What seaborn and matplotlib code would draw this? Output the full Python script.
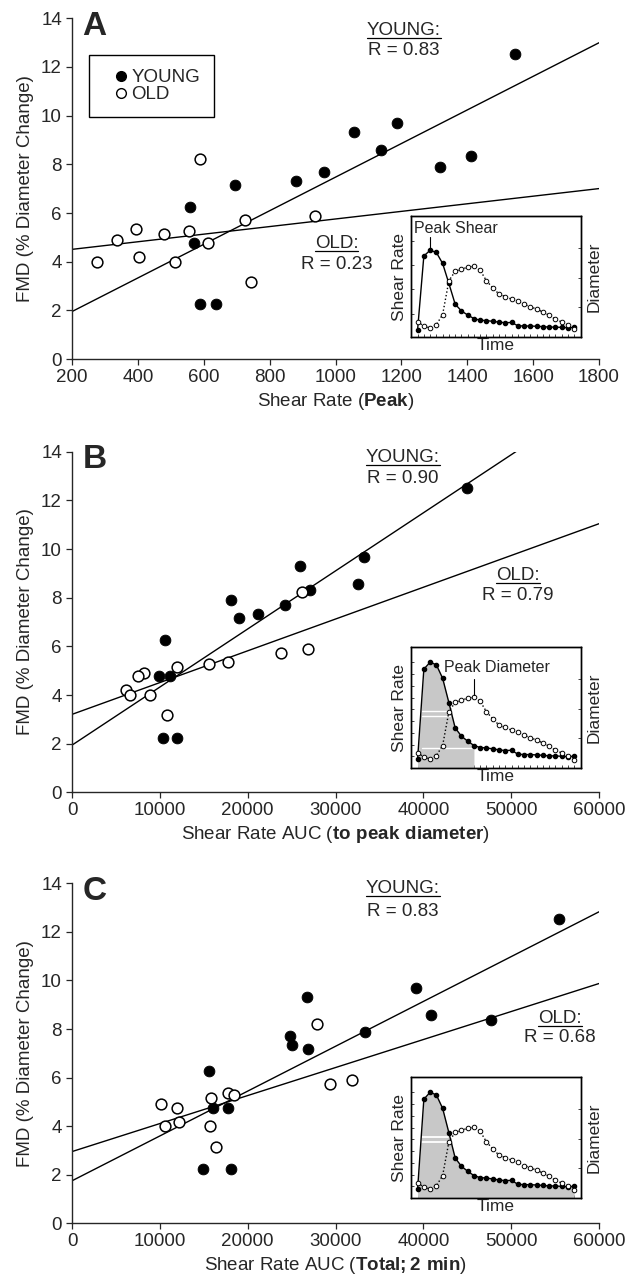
import numpy as np
import matplotlib
matplotlib.use('Agg')
import matplotlib.pyplot as plt
from matplotlib.lines import Line2D
import seaborn as sns

sns.set_style('ticks')
plt.rcParams['font.family'] = ['Liberation Sans', 'DejaVu Sans']
plt.rcParams['mathtext.fontset'] = 'custom'
plt.rcParams['mathtext.rm'] = 'Liberation Sans'
plt.rcParams['mathtext.bf'] = 'Liberation Sans:bold'
plt.rcParams['axes.linewidth'] = 1.0

# ---- panel A: peak shear rate
young_peak = [1546, 1187, 1057, 1139, 1412, 1317, 964, 880, 694, 557, 570, 588, 636]
young_fmd_a = [12.52, 9.68, 9.32, 8.59, 8.34, 7.90, 7.70, 7.32, 7.15, 6.26, 4.75, 2.25, 2.25]
old_peak = [277, 336, 393, 403, 479, 512, 554, 588, 612, 726, 742, 937]
old_fmd_a = [4.0, 4.89, 5.36, 4.18, 5.14, 4.0, 5.27, 8.2, 4.75, 5.71, 3.18, 5.89]

# ---- panel B: shear rate AUC to peak diameter
young_auc_pk = [44967, 33236, 25928, 32538, 27092, 18154, 24300, 21134, 18992,
                10567, 9869, 11125, 10334, 11917]
young_fmd_b = [12.51, 9.68, 9.30, 8.58, 8.33, 7.90, 7.70, 7.33, 7.15, 6.26, 4.78, 4.78, 2.25, 2.25]
old_auc_pk = [26161, 26859, 23741, 17736, 15641, 11963, 8146, 7541, 6145, 6610, 8891, 10846]
old_fmd_b = [8.22, 5.89, 5.74, 5.37, 5.27, 5.15, 4.89, 4.78, 4.2, 4.0, 4.0, 3.18]

# ---- panel C: total shear rate AUC (2 min)
young_auc_tot = [55441, 39149, 26720, 40824, 47667, 33330, 24811, 25090, 26813,
                 15641, 16106, 17782, 14943, 18155]
young_fmd_c = [12.52, 9.70, 9.32, 8.59, 8.36, 7.89, 7.71, 7.33, 7.16, 6.27, 4.76, 4.76, 2.22, 2.22]
old_auc_tot = [27930, 31840, 29420, 17736, 18434, 15780, 10101, 11917, 12196, 10567, 15687, 16432]
old_fmd_c = [8.21, 5.89, 5.72, 5.35, 5.28, 5.15, 4.90, 4.76, 4.19, 3.99, 3.99, 3.16]

r_young = ['0.83', '0.90', '0.83']
r_old = ['0.23', '0.79', '0.68']
xlabels = [r'Shear Rate ($\mathbf{Peak}$)',
           r'Shear Rate AUC ($\mathbf{to\ peak\ diameter}$)',
           r'Shear Rate AUC ($\mathbf{Total;2\ min}$)']

# ---- inset: schematic time course (normalised)
time_pts = np.arange(26)
shear_curve = [0.072, 0.817, 0.875, 0.853, 0.742, 0.54, 0.332, 0.263, 0.222, 0.186,
               0.169, 0.166, 0.158, 0.150, 0.144, 0.147, 0.114, 0.111, 0.111, 0.108,
               0.105, 0.100, 0.100, 0.097, 0.094, 0.097]
diam_curve = [0.125, 0.091, 0.075, 0.102, 0.186, 0.465, 0.543, 0.562, 0.576, 0.584,
              0.551, 0.465, 0.407, 0.355, 0.335, 0.313, 0.299, 0.269, 0.252, 0.230,
              0.208, 0.180, 0.147, 0.125, 0.100, 0.064]

panels = [
    dict(yx=young_peak, yy=young_fmd_a, ox=old_peak, oy=old_fmd_a, xlim=(200, 1800),
         xticks=np.arange(200, 1801, 200), letter='A',
         young_txt=(1208, 13.31, 12.49), old_txt=(1003, 4.56, 3.70),
         pos=[0.1127, 0.7195, 0.8247, 0.2662], ipos=[0.643, 0.7367, 0.266, 0.0945],
         shear_top=1.22, fill_end=None),
    dict(yx=young_auc_pk, yy=young_fmd_b, ox=old_auc_pk, oy=old_fmd_b, xlim=(0, 60000),
         xticks=np.arange(0, 60001, 10000), letter='B',
         young_txt=(37685, 13.59, 12.70), old_txt=(50800, 8.73, 7.90),
         pos=[0.1127, 0.381, 0.8247, 0.2661], ipos=[0.643, 0.400, 0.266, 0.0945],
         shear_top=1.0, fill_end=9),
    dict(yx=young_auc_tot, yy=young_fmd_c, ox=old_auc_tot, oy=old_fmd_c, xlim=(0, 60000),
         xticks=np.arange(0, 60001, 10000), letter='C',
         young_txt=(37685, 13.59, 12.66), old_txt=(55550, 8.23, 7.48),
         pos=[0.1127, 0.0443, 0.8247, 0.2656], ipos=[0.643, 0.064, 0.266, 0.0945],
         shear_top=1.0, fill_end=25),
]

fig = plt.figure(figsize=(6.39, 12.8), dpi=100)
underlined = []
fs = 13.5

for i, p in enumerate(panels):
    ax = fig.add_axes(p['pos'])
    ax.set_xlim(p['xlim'])
    ax.set_ylim(0, 14)
    # regression lines across the full x range
    for xs, ys in [(p['yx'], p['yy']), (p['ox'], p['oy'])]:
        sns.regplot(x=np.array(xs), y=np.array(ys), ax=ax, scatter=False, ci=None,
                    truncate=False, color='black', line_kws={'lw': 1.0})
    sns.scatterplot(x=p['yx'], y=p['yy'], ax=ax, color='black', edgecolor='black',
                    s=60, zorder=3, legend=False)
    sns.scatterplot(x=p['ox'], y=p['oy'], ax=ax, color='white', edgecolor='black',
                    linewidth=1.1, s=60, zorder=3, legend=False)
    ax.set_xlim(p['xlim'])
    ax.set_ylim(0, 14)
    ax.set_xticks(p['xticks'])
    ax.set_yticks(np.arange(0, 15, 2))
    sns.despine(ax=ax)
    ax.tick_params(direction='out', length=4.3, width=0.9, labelsize=fs, pad=3)
    ax.set_xlabel(xlabels[i], fontsize=fs, labelpad=3.5)
    ax.set_ylabel('FMD (% Diameter Change)', fontsize=fs, labelpad=5)
    ax.text(0.02, 0.951, p['letter'], transform=ax.transAxes, fontsize=24,
            fontweight='bold', va='baseline', ha='left')

    xt, yb1, yb2 = p['young_txt']
    t1 = ax.text(xt, yb1, 'YOUNG:', ha='center', va='baseline', fontsize=fs)
    ax.text(xt, yb2, 'R = ' + r_young[i], ha='center', va='baseline', fontsize=fs)
    underlined.append((ax, t1, xt, yb1))
    xt, yb1, yb2 = p['old_txt']
    t2 = ax.text(xt, yb1, 'OLD:', ha='center', va='baseline', fontsize=fs)
    ax.text(xt, yb2, 'R = ' + r_old[i], ha='center', va='baseline', fontsize=fs)
    underlined.append((ax, t2, xt, yb1))

    if i == 0:
        handles = [Line2D([], [], ls='', marker='o', color='k', ms=7, label='YOUNG'),
                   Line2D([], [], ls='', marker='o', mfc='white', mec='k', mew=1.0,
                          ms=7, label='OLD')]
        leg = ax.legend(handles=handles, loc='upper left', bbox_to_anchor=(0.033, 0.892),
                        borderaxespad=0, frameon=True, fancybox=False, edgecolor='k',
                        framealpha=1, fontsize=fs, borderpad=0.75, handlelength=1.9,
                        handletextpad=-0.4, labelspacing=0.0)
        leg.get_frame().set_linewidth(1.0)

    # inset time course
    iax = fig.add_axes(p['ipos'])
    if p['fill_end'] is not None:
        n = p['fill_end'] + 1
        iax.fill_between(time_pts[:n], shear_curve[:n], 0, color='#c8c8c8', lw=0, zorder=1)
    iax.plot(time_pts, shear_curve, '-o', color='k', lw=1.0, ms=3, mfc='k', mec='k', zorder=3)
    iax.set_xlim(-1.07, 26.07)
    iax.set_ylim(0, p['shear_top'])
    iax2 = iax.twinx()
    iax2.plot(time_pts, diam_curve, ':o', color='k', lw=1.0, ms=3.3, mfc='white',
              mec='k', mew=0.7)
    iax2.set_ylim(0, 1)
    iax.set_xticks(time_pts)
    iax.tick_params(axis='x', direction='in', length=2, width=0.6, labelbottom=False)
    if i == 0:
        iax.set_yticks(np.arange(0.235, 1.1, 0.245))
    else:
        iax.set_yticks(np.arange(0.097, 0.9, 0.097))
    iax.tick_params(axis='y', direction='in', length=2.5, width=0.6, labelleft=False)
    iax2.set_yticks([0.245, 0.49, 0.735])
    iax2.tick_params(axis='y', direction='in', length=2.5, width=0.6, labelright=False)
    for a in (iax, iax2):
        for s in a.spines.values():
            s.set_linewidth(1.0)
            s.set_color('k')
    iax.set_ylabel('Shear Rate', fontsize=12.5, labelpad=2.5)
    iax2.set_ylabel('Diameter', fontsize=12.5, labelpad=4)
    iax.set_xlabel('Time', fontsize=12.5, labelpad=1)

    if i == 0:
        iax.text(6.1, 1.052, 'Peak Shear', ha='center', va='baseline', fontsize=11.5)
        iax.plot([2, 2], [0.90, 1.011], color='k', lw=0.8)
    if i == 1:
        iax2.text(12.7, 0.796, 'Peak Diameter', ha='center', va='baseline', fontsize=11.5)
        iax2.plot([9, 9], [0.603, 0.733], color='k', lw=0.8)
        for yy, x1 in [(0.474, 5.2), (0.429, 5.2), (0.169, 8.9)]:
            iax.plot([0.64, x1], [yy, yy], color='white', lw=1.0, zorder=2)
    if i == 2:
        for yy in (0.507, 0.465):
            iax.plot([0.64, 4.9], [yy, yy], color='white', lw=1.3, zorder=2)

# underline the group headings
fig.canvas.draw()
renderer = fig.canvas.get_renderer()
inv = fig.transFigure.inverted()
for ax, t, xt, yb in underlined:
    bb = t.get_window_extent(renderer)
    ybase = ax.transData.transform((xt, yb))[1] - 3
    (x0, y0) = inv.transform((bb.x0, ybase))
    (x1, _) = inv.transform((bb.x1, ybase))
    fig.add_artist(Line2D([x0, x1], [y0, y0], transform=fig.transFigure,
                          color='k', lw=0.9))

fig.savefig('out.png', dpi=100)
